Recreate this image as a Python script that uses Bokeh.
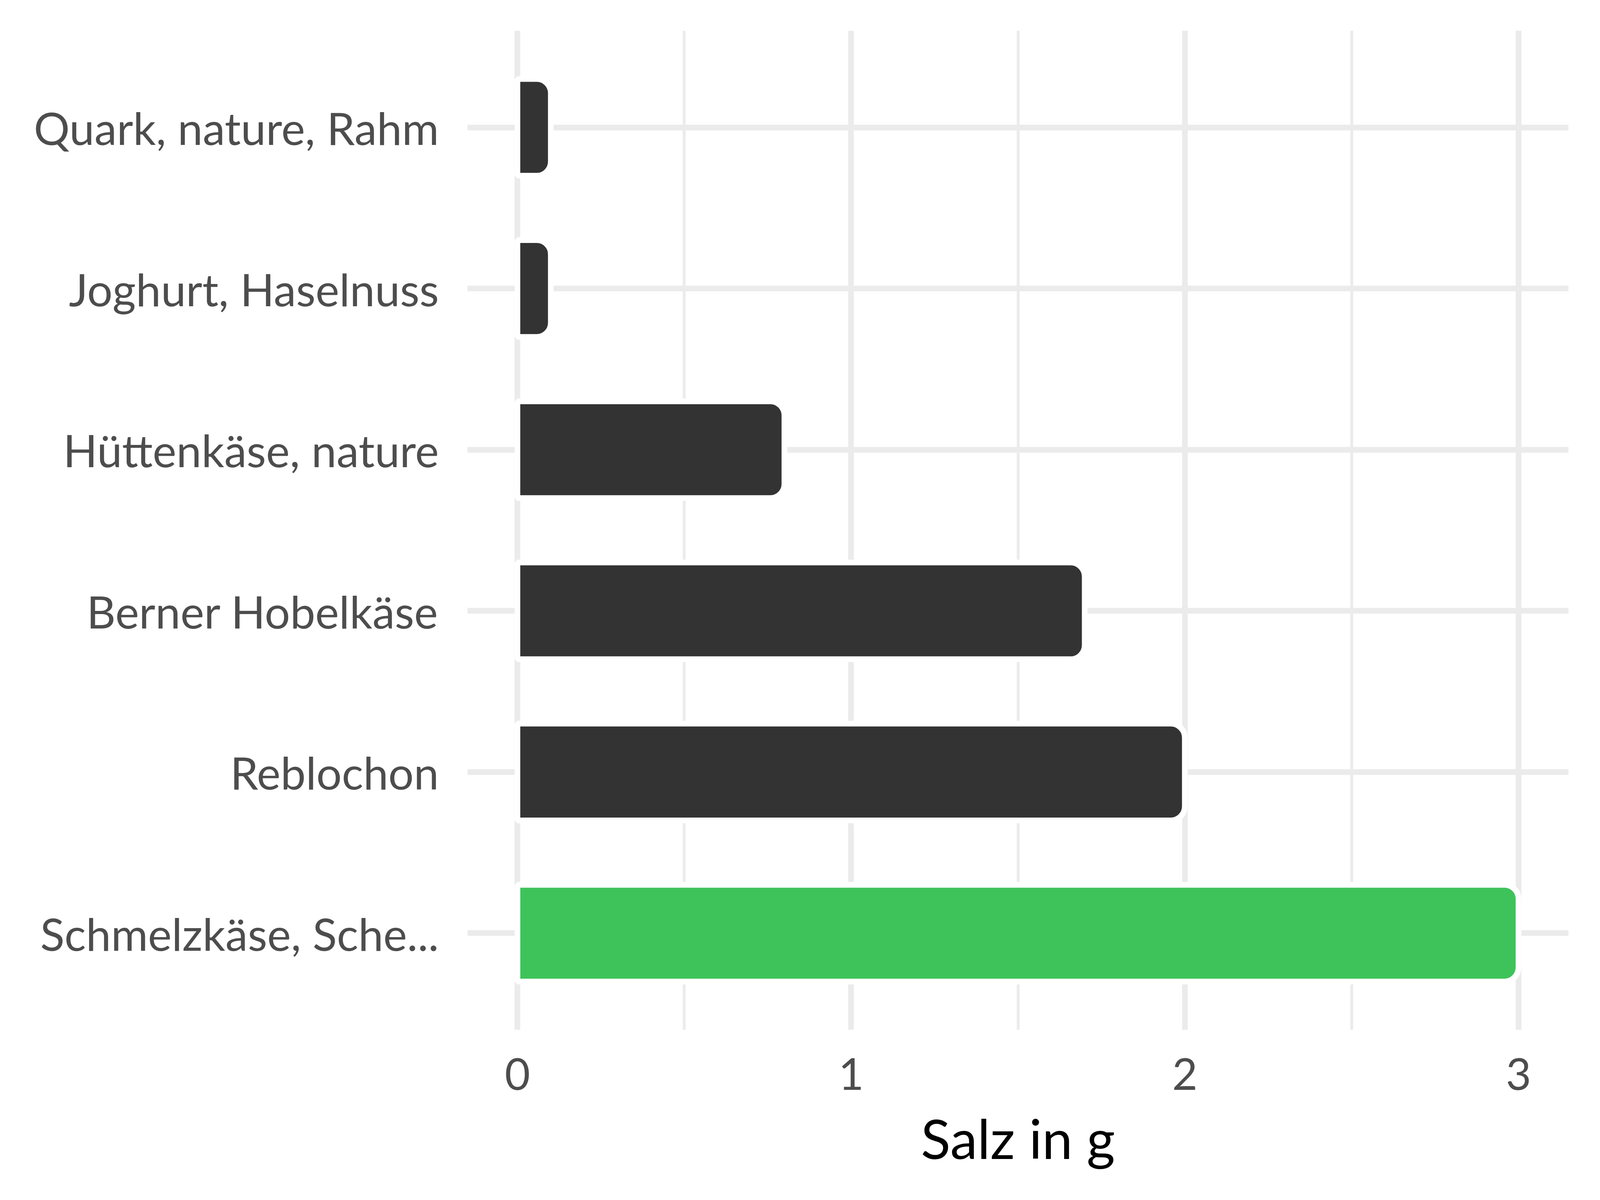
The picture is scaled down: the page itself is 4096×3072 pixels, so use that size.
from bokeh.plotting import figure
from bokeh.models import FactorRange, Range1d, FixedTicker, ColumnDataSource
from bokeh.embed import file_html
from bokeh.resources import INLINE

categories = ["Quark, nature, Rahm", "Joghurt, Haselnuss", "Hüttenkäse, nature",
              "Berner Hobelkäse", "Reblochon", "Schmelzkäse, Sche..."]
values = [0.1, 0.1, 0.8, 1.7, 2.0, 3.0]
bar_colors = ["#333333", "#333333", "#333333", "#333333", "#333333", "#3EC35A"]
x_ticks = [0, 1, 2, 3]
x_minor = [0.5, 1.5, 2.5]
x_title = "Salz in g"

W, H = 4080, 3056
FONT = "Lato"

factors = list(reversed(categories))
p = figure(width=W, height=H,
           y_range=FactorRange(factors=factors, range_padding=1/30),
           x_range=Range1d(-0.15, 3.15),
           output_backend="svg", toolbar_location=None,
           min_border_left=1196, min_border_right=65,
           min_border_top=78, min_border_bottom=420)
p.outline_line_color = None
p.background_fill_color = "white"
p.border_fill_color = "white"

src = ColumnDataSource(dict(cat=categories, val=values, color=bar_colors))
p.hbar(y="cat", left=0, right="val", height=0.6, source=src,
       fill_color="color", line_color="white", line_width=14.5,
       border_radius=(0, 36, 36, 0))

p.xaxis.ticker = FixedTicker(ticks=x_ticks, minor_ticks=x_minor)
p.xgrid.grid_line_color = "#EBEBEB"
p.xgrid.grid_line_width = 14.5
p.xgrid.minor_grid_line_color = "#EBEBEB"
p.xgrid.minor_grid_line_width = 7.3
p.ygrid.grid_line_color = "#EBEBEB"
p.ygrid.grid_line_width = 14.5

for ax in (p.xaxis[0], p.yaxis[0]):
    ax.axis_line_color = None
    ax.major_tick_line_color = None
    ax.minor_tick_line_color = None
    ax.major_tick_out = 0
    ax.major_tick_in = 0
    ax.minor_tick_out = 0
    ax.minor_tick_in = 0
    ax.major_label_text_font = FONT
    ax.major_label_text_color = "#4D4D4D"

p.yaxis.major_label_text_font_size = "115px"
p.xaxis.major_label_text_font_size = "112px"
p.yaxis.major_label_standoff = 73
p.xaxis.major_label_standoff = 72
p.xaxis.axis_label = x_title
p.xaxis.axis_label_text_font = FONT
p.xaxis.axis_label_text_font_size = "140px"
p.xaxis.axis_label_text_font_style = "normal"
p.xaxis.axis_label_text_color = "black"
p.xaxis.axis_label_standoff = 36

open("out.html", "w").write(file_html(p, INLINE))
